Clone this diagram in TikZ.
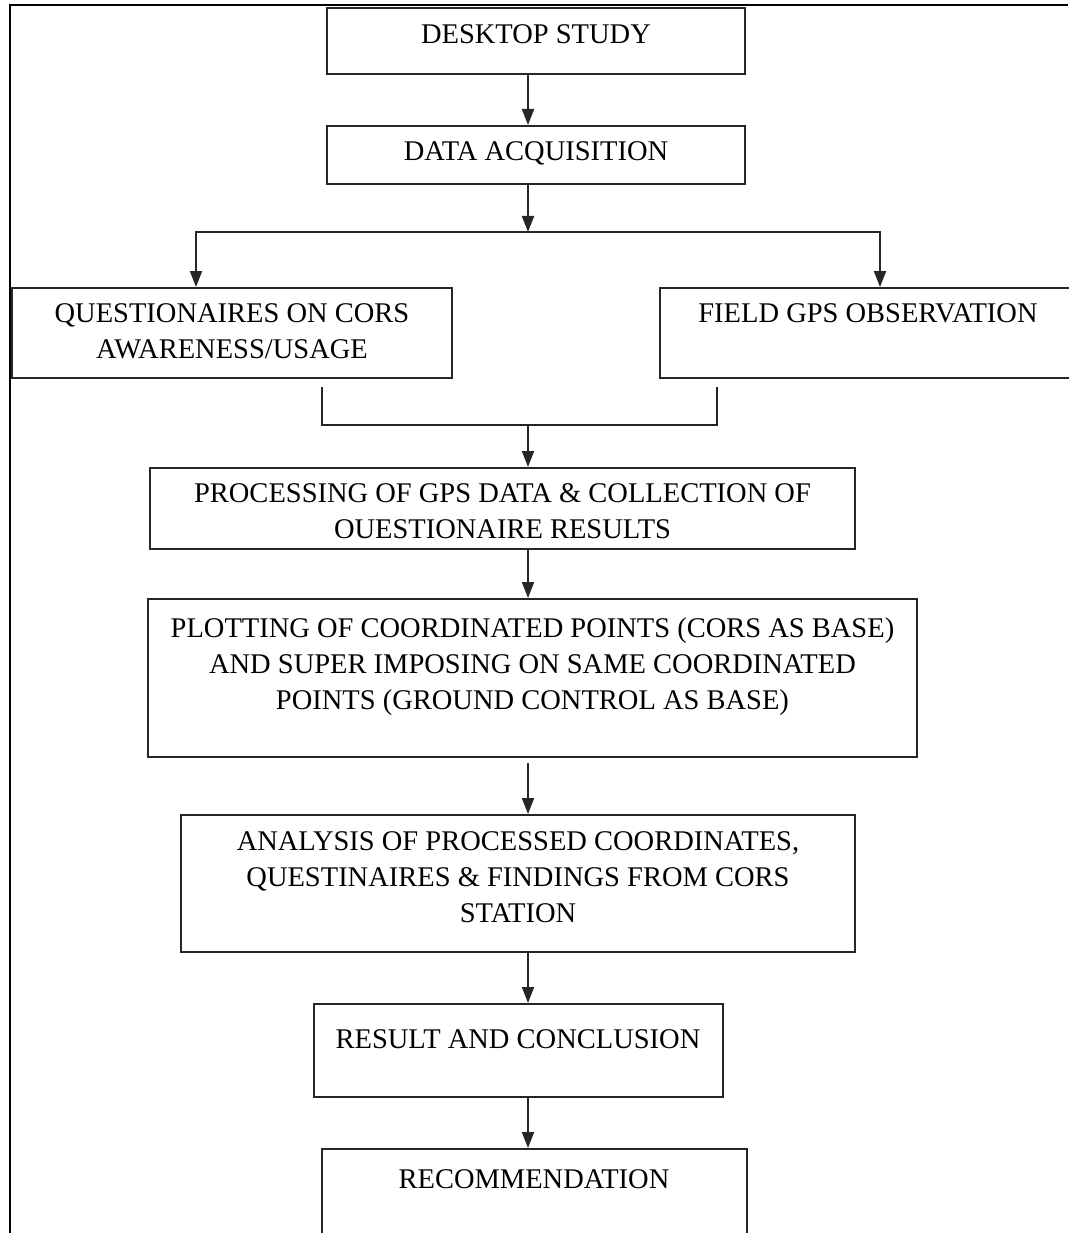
\documentclass[tikz,border=0pt]{standalone}
\usepackage{fontspec}
\setmainfont{Liberation Serif}
\usepackage{tikz}
\usetikzlibrary{arrows.meta, positioning}

% box text: width, height, top gap, text
\newcommand{\boxtext}[4]{\parbox[t][#2][t]{#1}{\vspace*{#3}\centering\strut #4}}

\begin{document}
\begin{tikzpicture}[
        x=1pt, y=-1pt,
        stepbox/.style={rectangle, draw=black!85, line width=2pt, inner sep=0pt, anchor=north,
                        font=\fontsize{28.5}{36}\selectfont},
        arr/.style={-{Triangle[length=16pt,width=12pt]}, line width=2pt, draw=black!85}
    ]
    \useasboundingbox (0,0) rectangle (1068,1233);

    % Frame
    \draw[line width=2.2pt] (1068,5) -- (10,5) -- (10,1233);

    % Top of the chart
    \node[stepbox] (desk) at (536,7) {\boxtext{418pt}{66pt}{10pt}{DESKTOP STUDY}};
    \node[stepbox, below=50pt of desk] (data) {\boxtext{418pt}{58pt}{9pt}{DATA ACQUISITION}};

    % Two branches
    \node[stepbox] (quest) at (232,287) {\boxtext{440pt}{90pt}{9pt}{QUESTIONAIRES ON CORS\\AWARENESS/USAGE}};
    \node[stepbox] (field) at (868,287) {\boxtext{416pt}{90pt}{9pt}{FIELD GPS OBSERVATION}};

    % Main chain
    \node[stepbox] (proc) at (502.5,467) {\boxtext{705pt}{81pt}{9pt}{PROCESSING OF GPS DATA \& COLLECTION OF\\OUESTIONAIRE RESULTS}};
    \node[stepbox, below=48pt of proc, xshift=30pt] (plot) {\boxtext{769pt}{158pt}{13pt}{PLOTTING OF COORDINATED POINTS (CORS AS BASE)\\AND SUPER IMPOSING ON SAME COORDINATED\\POINTS (GROUND CONTROL AS BASE)}};
    \node[stepbox, below=56pt of plot, xshift=-14.5pt] (anal) {\boxtext{674pt}{137pt}{10pt}{ANALYSIS OF PROCESSED COORDINATES,\\QUESTINAIRES \& FINDINGS FROM CORS\\STATION}};
    \node[stepbox, below=50pt of anal] (res) {\boxtext{409pt}{93pt}{19pt}{RESULT AND CONCLUSION}};
    \node[stepbox, below=50pt of res, xshift=16pt] (rec) {\boxtext{425pt}{110pt}{14pt}{RECOMMENDATION}};

    % Connections
    \coordinate (spine) at (528,0);
    \coordinate (split) at (528,232);
    \coordinate (merge) at (528,425);
    \draw[arr] (desk.south -| spine) -- (data.north -| spine);
    \draw[arr] (data.south -| spine) -- (split);
    \draw[arr] (split) -| ([xshift=-36pt]quest.north);
    \draw[arr] (split) -| ([xshift=12pt]field.north);
    \draw[line width=2pt, draw=black!85] ([xshift=90pt,yshift=-8pt]quest.south) |- (merge)
        -| ([xshift=-151pt,yshift=-8pt]field.south);
    \draw[arr] (merge) -- (proc.north -| merge);
    \draw[arr] (proc.south -| spine) -- (plot.north -| spine);
    \draw[arr, shorten <=5pt] (plot.south -| spine) -- (anal.north -| spine);
    \draw[arr] (anal.south -| spine) -- (res.north -| spine);
    \draw[arr] (res.south -| spine) -- (rec.north -| spine);

\end{tikzpicture}
\end{document}
